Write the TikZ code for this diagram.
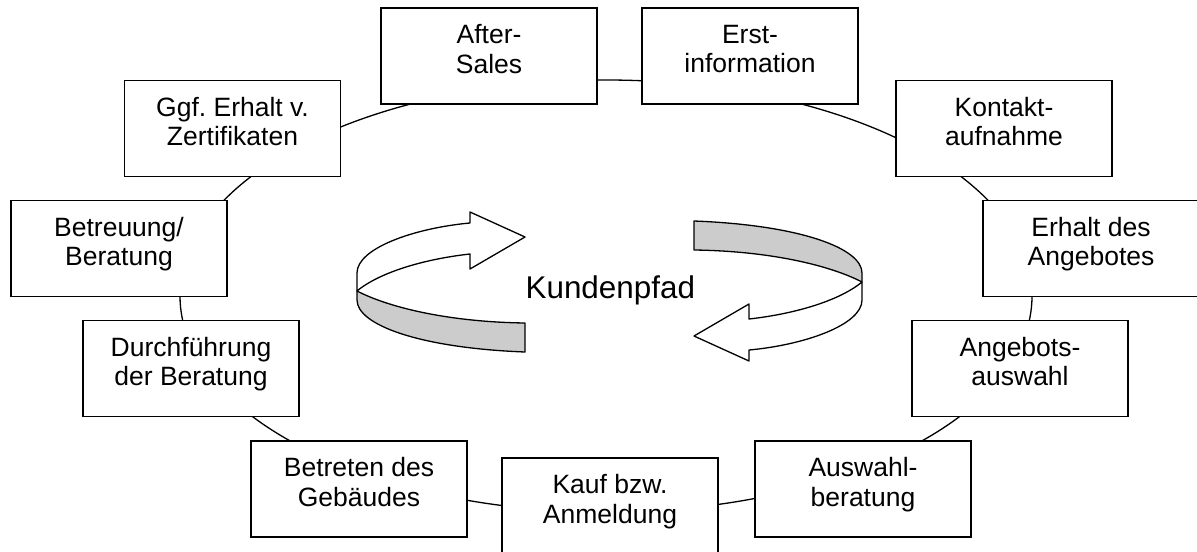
\documentclass[tikz,border=0pt]{standalone}
\usepackage{fontspec}
\setmainfont{Liberation Sans}
\frenchspacing
\usetikzlibrary{calc}
\definecolor{bandgray}{gray}{0.8}
\tikzset{stage/.style={draw,line width=.75pt,fill=white,minimum width=108pt,
  minimum height=48pt,inner sep=0pt,align=center,
  font=\fontsize{13.25}{14.67}\selectfont,text depth=7pt},
  ribbon/.style={line width=.65pt,line join=round}}

\begin{document}
\begin{tikzpicture}[x=.5pt,y=-.5pt]
\useasboundingbox (0,0) rectangle (1197,551);
\coordinate (O) at (606,296);
% the path through all stages
\draw[line width=.65pt] (O) ellipse [x radius=426,y radius=216];

\foreach \name/\x/\y/\txt in {aftersales/489/56/{After-\\Sales},
  erstinfo/750/56/{Erst-\\information},
  kontakt/1004/128.5/{Kontakt-\\aufnahme},
  erhalt/1091/248.5/{Erhalt des\\Angebotes},
  angebot/1020/368.5/{Angebots-\\auswahl},
  auswahl/863/489/{Auswahl-\\beratung},
  kauf/610/506/{Kauf bzw.\\Anmeldung},
  betreten/359/489/{Betreten des\\Gebäudes},
  durchf/191/368.5/{Durchführung\\der Beratung},
  betreuung/119/248.5/{Betreuung/\\Beratung},
  zertifikat/232.5/128.5/{Ggf. Erhalt v.\\Zertifikaten}} {
  \node[stage] (\name) at (\x,\y) {\txt};
}

% the two turning arrows in the middle
\coordinate (P) at (609.5,286.5);
\foreach \r in {0,180} {
\begin{scope}[shift={(P)},rotate=\r]
  \draw[ribbon,fill=white] (-139.5,-63.5) -- (-139.5,-74.5) -- (-84.5,-49.5)
    -- (-139.5,-17.5) -- (-139.5,-32.5)
    .. controls (-184.5,-27.5) and (-229.5,-14.5) .. (-252.5,4.5)
    -- (-252.5,-13.5)
    .. controls (-252.5,-38.5) and (-194.5,-58.5) .. cycle;
  \draw[ribbon,fill=bandgray] (-252.5,4.5)
    .. controls (-219.5,21.5) and (-159.5,35.5) .. (-84.5,36.5)
    -- (-84.5,65.5)
    .. controls (-189.5,61.5) and (-252.5,38.5) .. (-252.5,13.5) -- cycle;
\end{scope}
}
\node[anchor=base,font=\fontsize{15.7}{18}\selectfont] (kp) at (610.3,298.3) {Kundenpfad};
\end{tikzpicture}
\end{document}
